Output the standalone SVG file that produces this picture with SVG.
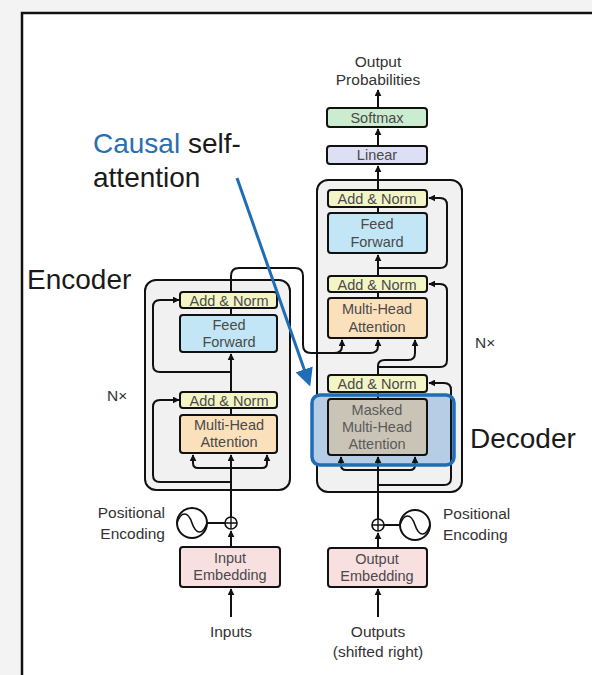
<svg xmlns="http://www.w3.org/2000/svg" width="592" height="675" viewBox="0 0 592 675">
<defs>
<marker id="ah" viewBox="0 0 10 10" refX="9" refY="5" markerWidth="7" markerHeight="7" markerUnits="userSpaceOnUse" orient="auto">
<path d="M0,0 L10,5 L0,10 z" fill="#111"/>
</marker>
<marker id="bh" viewBox="0 0 10 10" refX="8" refY="5" markerWidth="18" markerHeight="18" markerUnits="userSpaceOnUse" orient="auto">
<path d="M0,0 L10,5 L0,10 z" fill="#1f6db5"/>
</marker>
<style>
.blk{fill:#f1f1f1;stroke:#111;stroke-width:2}
.bx{stroke:#111;stroke-width:2}
.an{fill:#f4f5c6}
.ff{fill:#c2e6f5}
.mh{fill:#fbe0bc}
.em{fill:#f8dfe0}
.t{font-family:"Liberation Sans",Arial,sans-serif;font-size:14.5px;fill:#4a4a4a;text-anchor:middle}
.l{font-family:"Liberation Sans",Arial,sans-serif;font-size:15.5px;fill:#333}
.big{font-family:"Liberation Sans",Arial,sans-serif;font-size:28px;fill:#1a1a1a}
.ln{fill:none;stroke:#111;stroke-width:2}
</style>
</defs>
<rect x="0" y="0" width="592" height="675" fill="#f3f3f3"/>
<rect x="22" y="13" width="600" height="700" fill="#ffffff" stroke="#111" stroke-width="2.5"/>

<g id="encoder-block"><rect class="blk" x="145" y="280" width="145" height="210" rx="11"/></g>
<g id="decoder-block"><rect class="blk" x="317" y="180" width="145" height="312" rx="11"/></g>
<g id="highlight-fill"><rect x="312" y="395" width="142" height="70" rx="8" fill="#b7cde6"/></g>

<g id="connectors">
<path class="ln" d="M231,617 L231,589" marker-end="url(#ah)"/>
<path class="ln" d="M231,547 L231,531" marker-end="url(#ah)"/>
<path class="ln" d="M231,517 L231,455" marker-end="url(#ah)"/>
<path class="ln" d="M231,468 L198,468 Q193,468 193,463 L193,455" marker-end="url(#ah)"/>
<path class="ln" d="M231,468 L262,468 Q267,468 267,463 L267,455" marker-end="url(#ah)"/>
<path class="ln" d="M231,482 L160,482 Q153,482 153,475 L153,407 Q153,400 160,400 L179,400" marker-end="url(#ah)"/>
<path class="ln" d="M231,415 L231,408"/>
<path class="ln" d="M231,392 L231,354" marker-end="url(#ah)"/>
<path class="ln" d="M231,372 L160,372 Q153,372 153,365 L153,307 Q153,300 160,300 L179,300" marker-end="url(#ah)"/>
<path class="ln" d="M231,315 L231,308"/>
<path class="ln" d="M231,292 L231,276 Q231,268 239,268 L295,268 Q303,268 303,276 L303,345 Q303,353 311,353 L370,353 Q378,353 378,346 L378,340" marker-end="url(#ah)"/>
<path class="ln" d="M334,353 Q342,353 342,346 L342,340" marker-end="url(#ah)"/>
<path class="ln" d="M207,523 L225,523"/>

<path class="ln" d="M378,617 L378,589" marker-end="url(#ah)"/>
<path class="ln" d="M378,548 L378,533" marker-end="url(#ah)"/>
<path class="ln" d="M378,519 L378,457" marker-end="url(#ah)"/>
<path class="ln" d="M378,470 L346,470 Q341,470 341,465 L341,457" marker-end="url(#ah)"/>
<path class="ln" d="M378,470 L410,470 Q415,470 415,465 L415,457" marker-end="url(#ah)"/>
<path class="ln" d="M378,485 L444,485 Q451,485 451,478 L451,390 Q451,383 444,383 L429,383" marker-end="url(#ah)"/>
<path class="ln" d="M378,399 L378,392"/>
<path class="ln" d="M378,375 L378,366 Q378,360 385,360 L408,360 Q415,360 415,353 L415,340" marker-end="url(#ah)"/>
<path class="ln" d="M378,367 L440,367 Q447,367 447,360 L447,291 Q447,284 440,284 L429,284" marker-end="url(#ah)"/>
<path class="ln" d="M378,298 L378,292"/>
<path class="ln" d="M378,276 L378,255" marker-end="url(#ah)"/>
<path class="ln" d="M378,268 L440,268 Q447,268 447,261 L447,205 Q447,198 440,198 L429,198" marker-end="url(#ah)"/>
<path class="ln" d="M378,213 L378,207"/>
<path class="ln" d="M378,190 L378,166" marker-end="url(#ah)"/>
<path class="ln" d="M378,146 L378,129" marker-end="url(#ah)"/>
<path class="ln" d="M378,108 L378,90" marker-end="url(#ah)"/>
<path class="ln" d="M384,525 L400,525"/>
</g>

<g id="enc-addnorm2"><rect class="bx an" x="180" y="292" width="97" height="16" rx="3"/><text class="t" x="229" y="305.5">Add &amp; Norm</text></g>
<g id="enc-ff"><rect class="bx ff" x="180" y="315" width="97" height="37" rx="3"/><text class="t" x="229" y="330">Feed</text><text class="t" x="229" y="347">Forward</text></g>
<g id="enc-addnorm1"><rect class="bx an" x="180" y="392" width="97" height="16" rx="3"/><text class="t" x="229" y="405.5">Add &amp; Norm</text></g>
<g id="enc-mha"><rect class="bx mh" x="180" y="415" width="97" height="38" rx="3"/><text class="t" x="229" y="430">Multi-Head</text><text class="t" x="229" y="447">Attention</text></g>
<g id="enc-plus"><circle cx="231" cy="523" r="6" fill="#fff" stroke="#111" stroke-width="1.6"/><path d="M225,523 H237 M231,517 V529" stroke="#111" stroke-width="1.4"/></g>
<g id="enc-pe"><circle cx="192" cy="523" r="15" fill="#fff" stroke="#111" stroke-width="2"/><path d="M177,523 C181,511 188,511 192,523 C196,535 203,535 207,523" fill="none" stroke="#111" stroke-width="1.6"/></g>
<g id="enc-emb"><rect class="bx em" x="180" y="547" width="100" height="40" rx="3"/><text class="t" x="230" y="563">Input</text><text class="t" x="230" y="580">Embedding</text></g>

<g id="dec-addnorm3"><rect class="bx an" x="328" y="190" width="99" height="17" rx="3"/><text class="t" x="377" y="204">Add &amp; Norm</text></g>
<g id="dec-ff"><rect class="bx ff" x="328" y="213" width="99" height="40" rx="3"/><text class="t" x="377" y="229">Feed</text><text class="t" x="377" y="247">Forward</text></g>
<g id="dec-addnorm2"><rect class="bx an" x="328" y="276" width="99" height="16" rx="3"/><text class="t" x="377" y="289.5">Add &amp; Norm</text></g>
<g id="dec-mha"><rect class="bx mh" x="328" y="298" width="99" height="40" rx="3"/><text class="t" x="377" y="314">Multi-Head</text><text class="t" x="377" y="332">Attention</text></g>
<g id="dec-addnorm1"><rect class="bx an" x="328" y="375" width="99" height="17" rx="3"/><text class="t" x="377" y="389">Add &amp; Norm</text></g>
<g id="dec-masked"><rect class="bx" fill="#cac4b6" x="328" y="399" width="99" height="56" rx="3"/><text class="t" x="377" y="415" style="fill:#5a5a5a">Masked</text><text class="t" x="377" y="432" style="fill:#5a5a5a">Multi-Head</text><text class="t" x="377" y="449" style="fill:#5a5a5a">Attention</text></g>
<g id="dec-plus"><circle cx="378" cy="525" r="6" fill="#fff" stroke="#111" stroke-width="1.6"/><path d="M372,525 H384 M378,519 V531" stroke="#111" stroke-width="1.4"/></g>
<g id="dec-pe"><circle cx="415" cy="525" r="15" fill="#fff" stroke="#111" stroke-width="2"/><path d="M400,525 C404,513 411,513 415,525 C419,537 426,537 430,525" fill="none" stroke="#111" stroke-width="1.6"/></g>
<g id="dec-emb"><rect class="bx em" x="328" y="548" width="99" height="39" rx="3"/><text class="t" x="377" y="564">Output</text><text class="t" x="377" y="581">Embedding</text></g>
<g id="linear"><rect class="bx" fill="#dde0f4" x="327" y="146" width="100" height="18" rx="3"/><text class="t" x="377" y="160">Linear</text></g>
<g id="softmax"><rect class="bx" fill="#cbeccf" x="327" y="108" width="100" height="19" rx="3"/><text class="t" x="377" y="122.5">Softmax</text></g>

<g id="highlight"><rect x="312" y="395" width="142" height="70" rx="8" fill="none" stroke="#1f6db5" stroke-width="3.5"/></g>
<g id="callout-arrow"><path d="M237,178 L309,383" fill="none" stroke="#1f6db5" stroke-width="3" marker-end="url(#bh)"/></g>

<g id="labels">
<text class="l" x="378" y="67" text-anchor="middle">Output</text>
<text class="l" x="378" y="85" text-anchor="middle">Probabilities</text>
<text class="big" x="93" y="153"><tspan fill="#2a6fb0">Causal</tspan> self-</text>
<text class="big" x="93" y="187">attention</text>
<text class="big" x="27" y="289">Encoder</text>
<text class="big" x="470" y="448">Decoder</text>
<text class="l" x="107" y="401">N×</text>
<text class="l" x="475" y="348">N×</text>
<text class="l" x="165" y="518" text-anchor="end">Positional</text>
<text class="l" x="165" y="539" text-anchor="end">Encoding</text>
<text class="l" x="443" y="519">Positional</text>
<text class="l" x="443" y="540">Encoding</text>
<text class="l" x="231" y="637" text-anchor="middle">Inputs</text>
<text class="l" x="378" y="637" text-anchor="middle">Outputs</text>
<text class="l" x="378" y="657" text-anchor="middle">(shifted right)</text>
</g>
</svg>
